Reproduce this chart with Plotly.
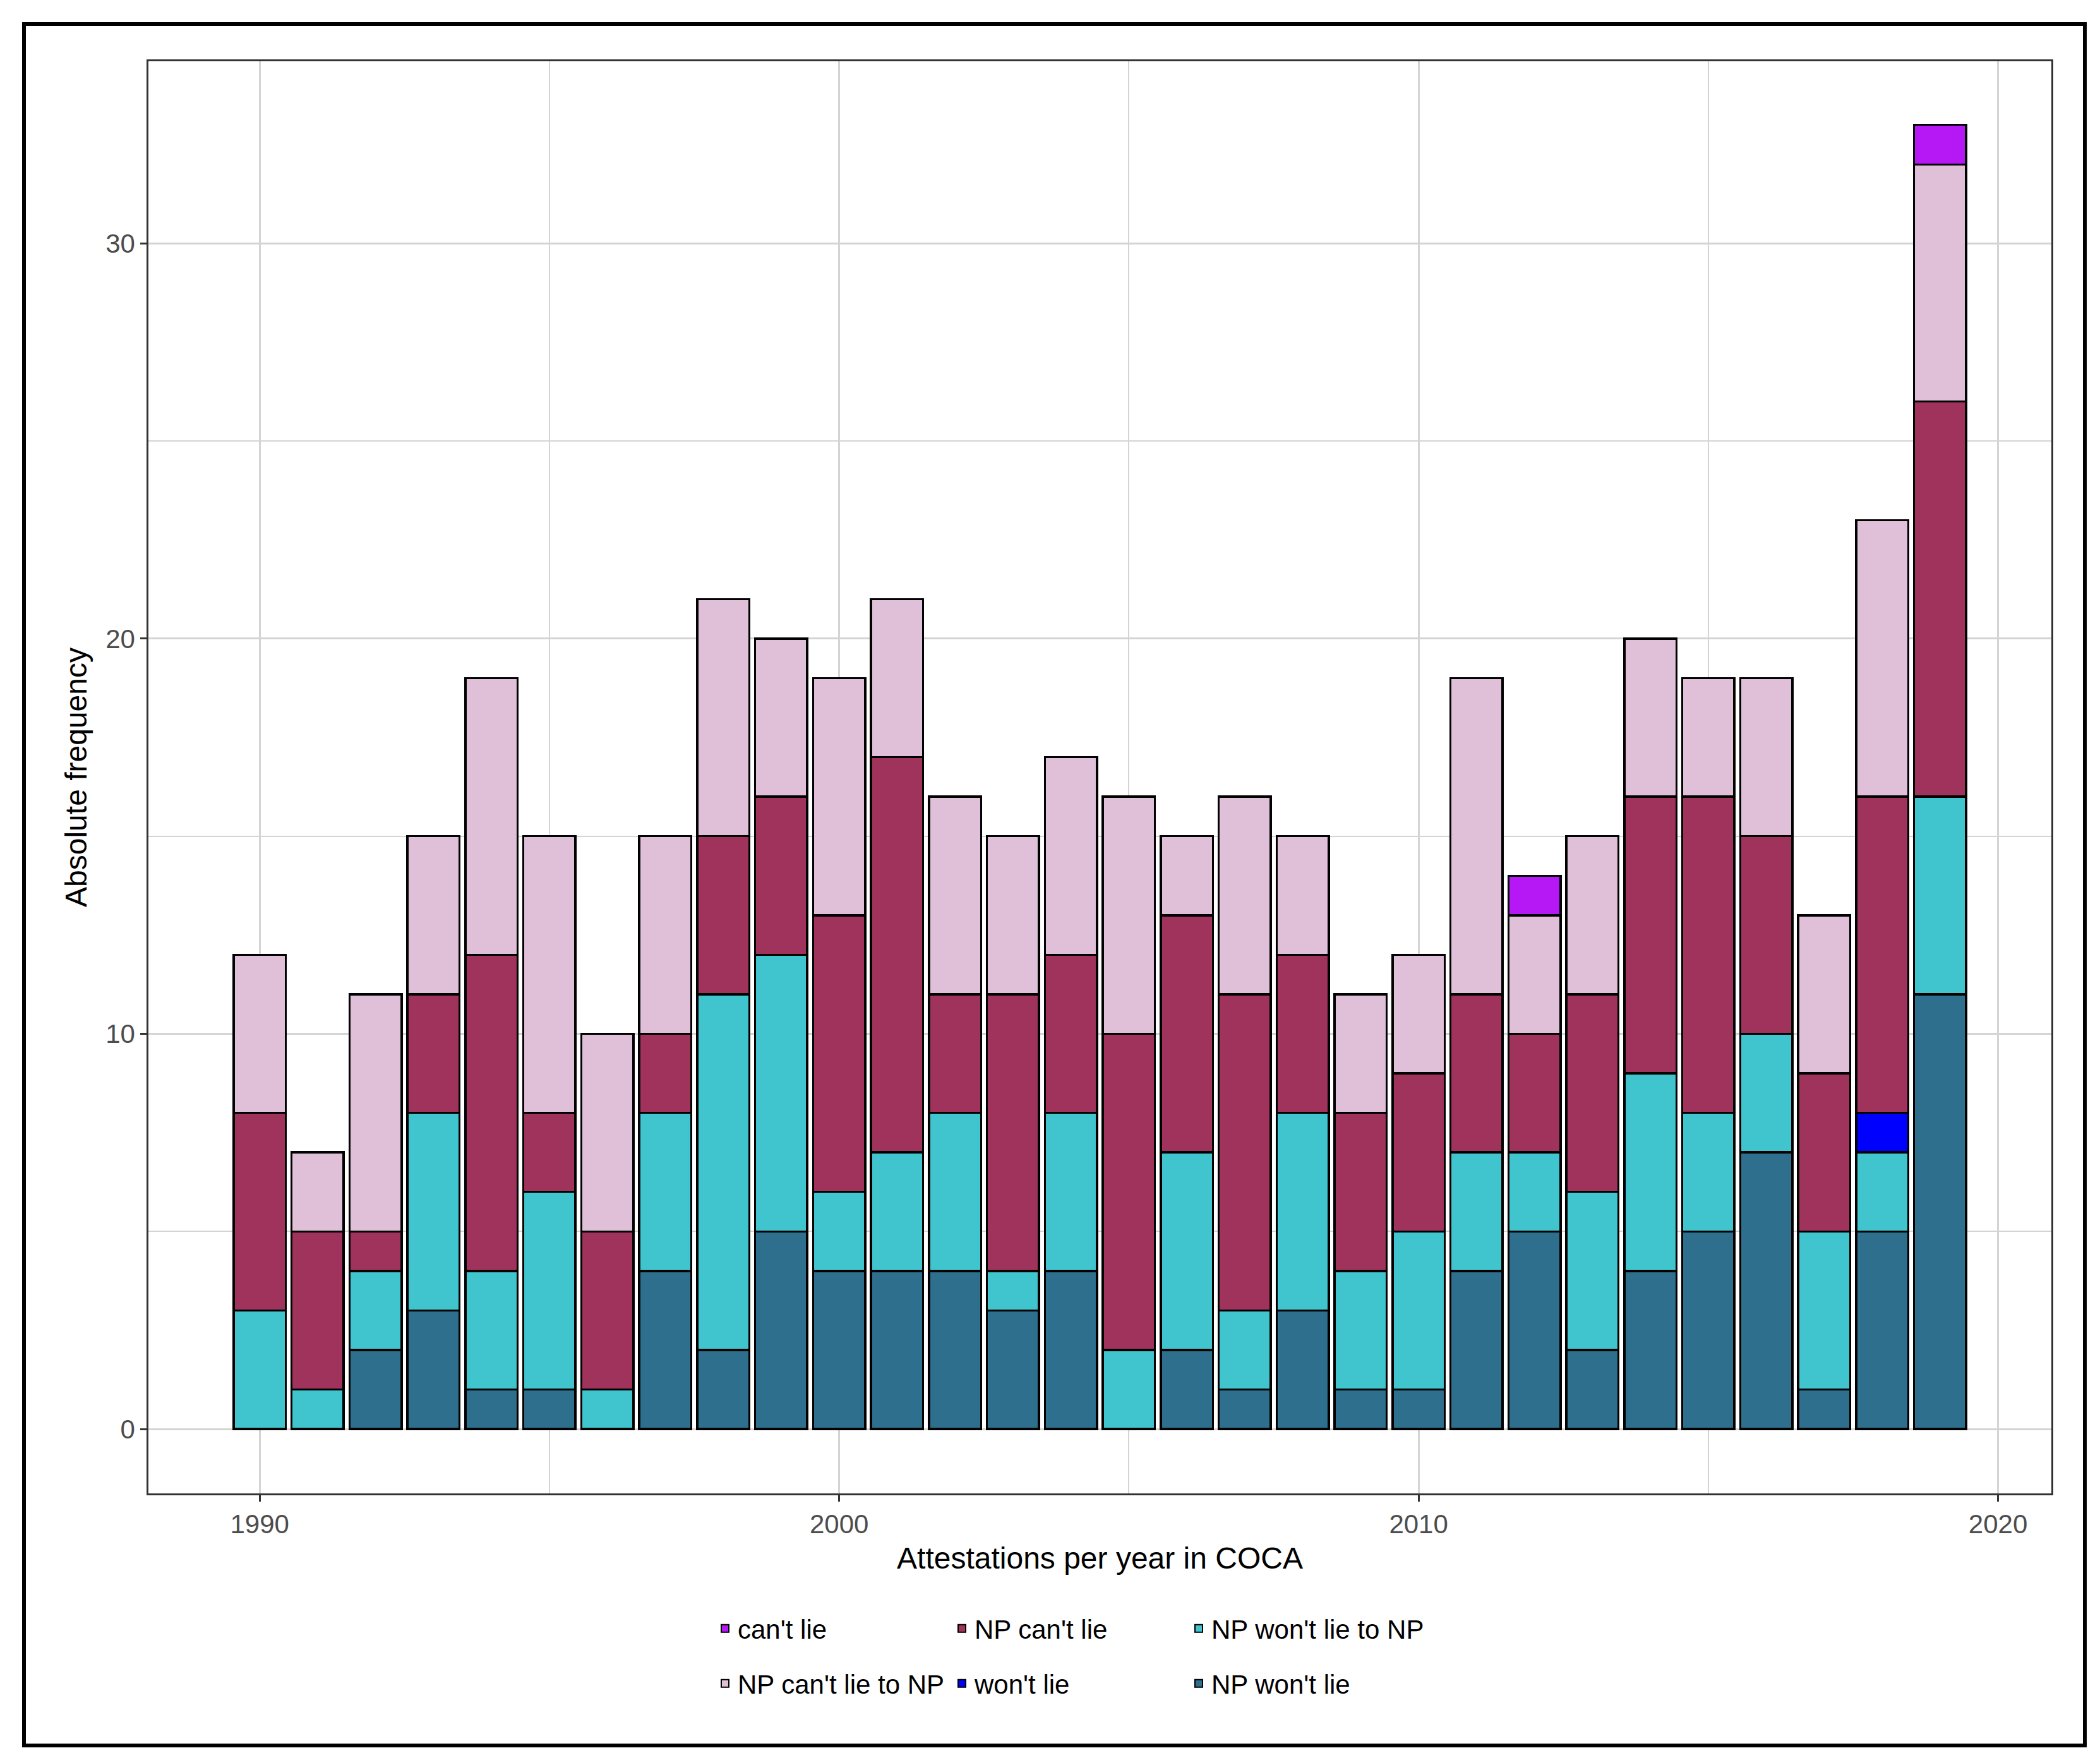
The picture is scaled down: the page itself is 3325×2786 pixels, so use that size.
import plotly.graph_objects as go

years = list(range(1990, 2020))
np_wont_lie      = [0,0,2,3,1,1,0,4,2,5,4,4,4,3,4,0,2,1,3,1,1,4,5,2,4,5,7,1,5,11]
np_wont_lie_to   = [3,1,2,5,3,5,1,4,9,7,2,3,4,1,4,2,5,2,5,3,4,3,2,4,5,3,3,4,2,5]
wont_lie         = [0,0,0,0,0,0,0,0,0,0,0,0,0,0,0,0,0,0,0,0,0,0,0,0,0,0,0,0,1,0]
np_cant_lie      = [5,4,1,3,8,2,4,2,4,4,7,10,3,7,4,8,6,8,4,4,4,4,3,5,7,8,5,4,8,10]
np_cant_lie_to   = [4,2,6,4,7,7,5,5,6,4,6,4,5,4,5,6,2,5,3,3,3,8,3,4,4,3,4,4,7,6]
cant_lie         = [0,0,0,0,0,0,0,0,0,0,0,0,0,0,0,0,0,0,0,0,0,0,1,0,0,0,0,0,0,1]

series = [
    ("NP won't lie", np_wont_lie, "#2e6f8e", "legend2"),
    ("NP won't lie to NP", np_wont_lie_to, "#40c5ce", "legend"),
    ("won't lie", wont_lie, "#0000ff", "legend2"),
    ("NP can't lie", np_cant_lie, "#a0335c", "legend"),
    ("NP can't lie to NP", np_cant_lie_to, "#e0c0d8", "legend2"),
    ("can't lie", cant_lie, "#b517f5", "legend"),
]

fig = go.Figure()
for name, vals, col, lg in series:
    fig.add_trace(go.Bar(x=years, y=[v if v else None for v in vals], name=name,
                         marker=dict(color=col, line=dict(color="black", width=3.5)),
                         width=0.9, legend=lg))

W, H = 3325, 2786
L, R, T, B = 227, 85, 89, 430
pw, ph = W - L - R, H - T - B
grid = "#d4d4d4"
tickfont = dict(family="Liberation Sans, Arial", size=42, color="#4d4d4d")
legfont = dict(family="Liberation Sans, Arial", size=42, color="black")

fig.update_layout(
    width=W, height=H, barmode="stack", bargap=0.1,
    margin=dict(l=L, r=R, t=T, b=B),
    paper_bgcolor="white", plot_bgcolor="white",
    font=dict(family="Liberation Sans, Arial"),
    xaxis=dict(range=[1988.08, 2020.92], tickvals=[1990, 2000, 2010, 2020],
               showgrid=True, gridcolor=grid, gridwidth=2.5,
               minor=dict(tickvals=[1995, 2005, 2015], showgrid=True, gridcolor=grid, gridwidth=1.5),
               ticks="outside", ticklen=10, tickwidth=2.5, tickcolor="#333333",
               tickfont=tickfont, showline=True, mirror=True, linecolor="#333333", linewidth=2.5,
               zeroline=False,
               title=dict(text="Attestations per year in COCA", font=dict(size=48, color="black"), standoff=15)),
    yaxis=dict(range=[-1.63, 34.61], tickvals=[0, 10, 20, 30],
               showgrid=True, gridcolor=grid, gridwidth=2.5,
               minor=dict(tickvals=[5, 15, 25], showgrid=True, gridcolor=grid, gridwidth=1.5),
               ticks="outside", ticklen=10, tickwidth=2.5, tickcolor="#333333",
               tickfont=tickfont, showline=True, mirror=True, linecolor="#333333", linewidth=2.5,
               zeroline=False,
               title=dict(text="Absolute frequency", font=dict(size=48, color="black"), standoff=15)),
    legend=dict(orientation="h", x=(1120 - L) / pw, y=(2356 - 2570) / ph, xanchor="left", yanchor="middle",
                traceorder="reversed", entrywidth=330, entrywidthmode="pixels", font=legfont,
                itemsizing="constant", bgcolor="rgba(0,0,0,0)"),
    legend2=dict(orientation="h", x=(1120 - L) / pw, y=(2356 - 2657) / ph, xanchor="left", yanchor="middle",
                 traceorder="reversed", entrywidth=330, entrywidthmode="pixels", font=legfont,
                 itemsizing="constant", bgcolor="rgba(0,0,0,0)"),
)

# outer frame
fig.add_shape(type="rect", xref="paper", yref="paper",
              x0=(30 - L) / pw, x1=(3293 - L) / pw,
              y0=(2356 - 2755) / ph, y1=(2356 - 30) / ph,
              line=dict(color="black", width=6), fillcolor="rgba(0,0,0,0)", layer="above")

fig.write_html("out.html")
